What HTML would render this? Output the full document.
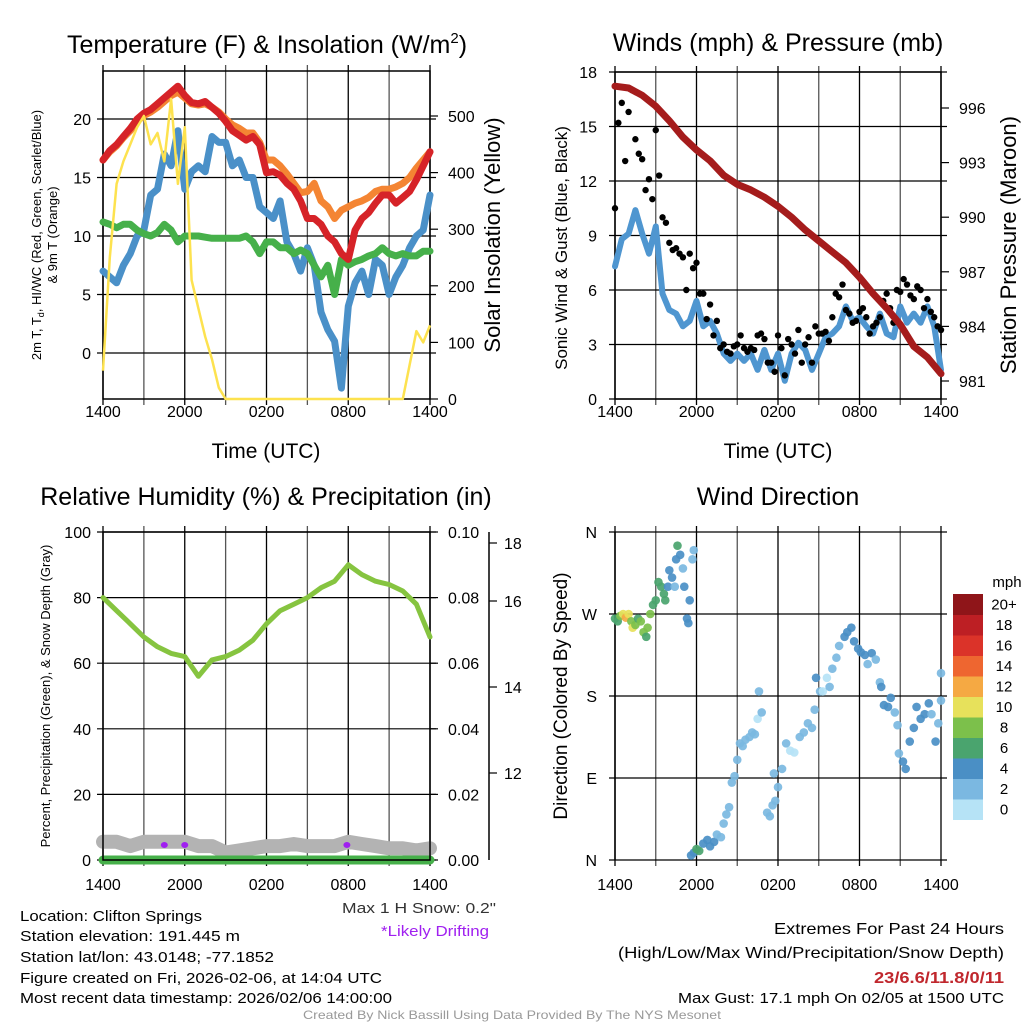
<!DOCTYPE html>
<html><head><meta charset="utf-8"><style>
html,body{margin:0;padding:0;background:#fff;}
svg{display:block;font-family:"Liberation Sans",Arial,sans-serif;}
</style></head><body>
<svg id="s" width="1024" height="1024" viewBox="0 0 1024 1024" xmlns="http://www.w3.org/2000/svg">
<rect width="1024" height="1024" fill="#fff"/>
<g id="tl"></g>
<g id="tr"></g>
<g id="bl"></g>
<g id="br"></g>
<g font-size="15" fill="#000">
<text x="20" y="921" textLength="182" lengthAdjust="spacingAndGlyphs">Location: Clifton Springs</text>
<text x="20" y="941" textLength="220" lengthAdjust="spacingAndGlyphs">Station elevation: 191.445 m</text>
<text x="20" y="962" textLength="254" lengthAdjust="spacingAndGlyphs">Station lat/lon: 43.0148; -77.1852</text>
<text x="20" y="983" textLength="362" lengthAdjust="spacingAndGlyphs">Figure created on Fri, 2026-02-06, at 14:04 UTC</text>
<text x="20" y="1003" textLength="372" lengthAdjust="spacingAndGlyphs">Most recent data timestamp: 2026/02/06 14:00:00</text>
<text x="342" y="913" textLength="154" lengthAdjust="spacingAndGlyphs" fill="#333">Max 1 H Snow: 0.2"</text>
<text x="381" y="936" textLength="108" lengthAdjust="spacingAndGlyphs" fill="#a020f0">*Likely Drifting</text>
<text x="1004" y="934" text-anchor="end" font-size="16" textLength="230" lengthAdjust="spacingAndGlyphs">Extremes For Past 24 Hours</text>
<text x="1004" y="958" text-anchor="end" font-size="16" textLength="386" lengthAdjust="spacingAndGlyphs">(High/Low/Max Wind/Precipitation/Snow Depth)</text>
<text x="1004" y="983" text-anchor="end" font-size="16" font-weight="bold" fill="#c0272d" textLength="130" lengthAdjust="spacingAndGlyphs">23/6.6/11.8/0/11</text>
<text x="1004" y="1003" text-anchor="end" textLength="326" lengthAdjust="spacingAndGlyphs">Max Gust: 17.1 mph On 02/05 at 1500 UTC</text>
<text x="303" y="1019" font-size="12" fill="#999" textLength="418" lengthAdjust="spacingAndGlyphs">Created By Nick Bassill Using Data Provided By The NYS Mesonet</text>
</g>
</svg>
<script>
// ---- data (hours since 1400 UTC, every 0.5 h) ----
const timeLabels = ["1400","2000","0200","0800","1400"];
const temp2m = [16.5,17.3,17.8,18.5,19.2,20.0,20.5,20.8,21.3,21.8,22.3,22.8,22.0,21.4,21.3,21.5,21.0,20.5,19.8,19.0,18.6,18.2,18.5,17.8,15.4,15.5,15.2,14.5,14.0,13.0,11.5,11.5,11.0,10.0,9.5,8.5,8.0,10.5,11.5,12.0,12.8,13.5,13.5,12.8,13.3,13.8,14.8,16.0,17.2];
const temp9m = [16.5,17.2,17.7,18.4,19.0,19.8,20.3,20.6,21.0,21.5,22.0,22.3,21.8,21.3,21.2,21.3,21.0,20.6,20.0,19.5,19.2,18.8,18.8,18.0,16.5,16.5,16.0,15.3,14.5,13.7,13.8,14.5,13.0,12.5,11.5,12.2,12.5,12.8,13.0,13.3,13.8,14.0,14.0,14.2,14.5,15.0,15.8,16.5,17.2];
const dewpt = [11.2,11.0,10.7,11.0,11.0,10.5,10.2,10.0,10.3,11.0,10.5,9.5,10.0,10.0,10.0,9.9,9.8,9.8,9.8,9.8,9.8,10.0,9.5,8.5,9.5,9.5,9.0,9.0,8.5,8.8,8.5,7.5,6.5,7.5,5.0,8.0,7.5,7.8,8.0,8.3,8.5,9.0,8.5,8.3,8.5,8.3,8.3,8.7,8.7];
const windChill = [7.0,6.5,6.0,7.5,8.5,10.0,10.5,13.5,14.0,17.0,16.0,19.0,14.0,15.5,16.0,15.5,18.5,18.0,18.0,16.0,16.5,15.0,15.0,12.5,12.0,11.5,13.0,9.5,8.5,7.0,9.0,7.5,3.5,2.0,1.0,-3.0,4.0,6.0,7.0,5.0,8.0,7.5,5.0,6.5,7.5,9.0,10.0,10.5,13.5];
const solar = [50,250,380,420,450,480,500,450,470,420,530,380,480,210,160,110,70,20,0,0,0,0,0,0,0,0,0,0,0,0,0,0,0,0,0,0,0,0,0,0,0,0,0,0,0,60,120,100,130];
const tempTicks = [0,5,10,15,20];
const solarTicks = [0,100,200,300,400,500];

const windSpeed = [7.3,8.8,9.1,10.4,9.1,8.0,9.5,5.8,4.9,4.7,4.0,4.3,5.4,4.0,4.3,3.6,2.5,2.1,2.5,2.1,2.5,1.6,2.7,1.6,2.5,1.0,2.5,3.1,2.7,1.6,2.5,3.4,3.6,4.0,5.1,4.3,4.5,4.0,3.6,4.7,3.6,3.4,5.1,4.2,4.7,4.2,5.1,4.0,1.6];
const windGust = [10.5,16.3,15.8,14.3,13.2,12.1,14.8,10.0,8.6,8.3,7.8,8.0,7.5,5.8,5.2,4.3,3.0,2.5,3.0,2.8,2.8,3.5,3.3,2.0,3.5,1.3,3.0,3.8,3.0,2.0,3.6,3.7,4.5,5.6,4.9,4.2,4.8,4.5,4.0,4.5,5.8,4.2,5.9,6.3,5.5,6.0,5.5,4.5,3.8];
const windGust2 = [15.2,13.1,17.0,13.5,11.5,11.0,12.3,9.7,8.2,8.0,6.0,7.2,5.8,4.4,3.5,2.8,2.6,2.9,3.5,2.6,2.7,3.6,2.0,1.5,2.8,3.3,2.5,2.0,3.4,4.0,3.6,3.2,5.8,6.3,4.7,4.3,5.0,3.6,4.2,5.4,5.0,6.0,6.6,5.7,6.2,5.0,4.8,4.0];
const pressure = [997.2,997.1,996.7,996.1,995.3,994.4,993.7,993.1,992.3,991.8,991.5,991.1,990.6,990.0,989.3,988.7,988.1,987.5,986.7,985.8,985.0,984.1,982.9,982.3,981.4]; // hourly
const windTicks = [0,3,6,9,12,15,18];
const presTicks = [981,984,987,990,993,996];

const rh = [80,76,72,68,65,63,62,56,61,62,64,67,72,76,78,80,83,85,90,87,85,84,82,78,68]; // hourly
const snowDepth = [10.4,10.4,10.3,10.4,10.4,10.4,10.4,10.3,10.3,10.15,10.2,10.25,10.3,10.3,10.35,10.3,10.3,10.3,10.4,10.35,10.3,10.25,10.25,10.2,10.25]; // hourly
const precip = [0,0,0,0,0,0,0,0,0,0,0,0,0,0,0,0,0,0,0,0,0,0,0,0,0];
const driftTimes = [4.5,6.0,17.9];
const rhTicks = [0,20,40,60,80,100];
const precipTicks = [0,0.02,0.04,0.06,0.08,0.10];
const snowTicks = [12,14,16,18];

const dirTime = [0,0.2,0.4,0.6,0.8,1.0,1.2,1.3,1.5,1.7,1.9,2.1,2.3,2.4,2.6,2.8,3.0,3.2,3.4,3.6,3.7,3.9,4.0,4.2,4.4,4.5,4.6,4.8,5.0,5.1,5.3,5.4,5.5,5.7,5.8,5.6,5.8,6.0,6.2,6.5,6.8,7.0,7.3,7.5,7.8,8.0,8.2,8.4,8.6,8.8,9.0,9.2,9.4,9.6,9.9,10.1,10.3,10.5,10.6,10.8,11.2,11.4,11.6,11.7,11.8,12.0,12.3,12.6,12.9,13.2,13.6,13.9,14.2,14.5,14.7,14.8,15.1,15.3,15.6,15.8,16.0,16.3,16.5,16.9,17.1,17.4,17.6,17.9,18.1,18.4,18.6,18.9,19.2,19.5,19.6,19.8,20.1,20.3,20.6,20.8,20.9,21.2,21.4,21.7,22.0,22.2,22.5,22.8,23.1,23.3,23.6,23.8,24.0,24.0];
const dirDeg = [265,262,268,270,266,270,262,255,258,265,262,250,245,255,270,280,285,305,300,292,285,300,318,310,300,330,345,335,320,300,265,260,285,330,340,5,8,12,10,18,22,15,20,28,25,40,50,58,85,92,110,128,125,132,135,140,138,155,185,162,52,48,60,95,65,80,100,128,120,118,135,140,150,145,165,200,185,185,200,190,210,222,235,245,250,255,240,232,228,225,215,227,220,195,190,170,168,178,162,148,117,108,100,130,145,168,155,160,172,160,130,150,205,175];
const dirSpeed = [7,7,9,10,12,10,8,10,9,7,8,8,7,8,8,7,6,7,6,7,7,5,5,4,3,4,6,4,3,4,4,4,4,3,2,4,4,7,6,4,4,4,4,3,2,3,3,3,3,3,3,3,2,3,3,2,3,1,3,3,2,3,3,3,3,3,3,3,1,1,3,3,3,3,3,4,3,1,1,3,3,3,3,4,4,4,4,4,4,4,3,4,3,3,4,4,4,4,3,3,3,4,4,4,4,4,4,4,4,3,4,3,2,2];
const dirTicks = ["N","E","S","W","N"];
const speedLabels = ["0","2","4","6","8","10","12","14","16","18","20+"];
const speedColors = ["#b6e3f6","#7bb8e1","#4a8fc5","#4aa46e","#7cc04b","#e7e15b","#f5a943","#ee6630","#db3329","#bd1f24","#8f1519"];

// ---- helpers ----
const NS = "http://www.w3.org/2000/svg";
function mk(parent, tag, attrs, text){
  const e = document.createElementNS(NS, tag);
  for (const k in attrs) e.setAttribute(k, attrs[k]);
  if (text !== undefined) e.textContent = text;
  parent.appendChild(e);
  return e;
}
function lin(d0,d1,r0,r1){ return v => r0 + (v-d0)/(d1-d0)*(r1-r0); }
function pathFrom(xs, ys){ return xs.map((x,i)=>(i?"L":"M")+x.toFixed(1)+","+ys[i].toFixed(1)).join(""); }

function frame(g, x0, x1, y0, y1, xScale, labelY){
  for (let h=0; h<=24; h+=3){
    const x = xScale(h);
    const l = mk(g,"line",{x1:x,x2:x,y1:y0-6,y2:y1+6,stroke:(h%6===0)?"#000":"#555","stroke-width":1.3});
    
    
  }
  timeLabels.forEach((lab,i)=>{
    const t = mk(g,"text",{x:xScale(i*6),y:labelY,"text-anchor":"middle","font-size":16},lab);
    
    
  });
}
function hgrid(g, x0, x1, y){
  const l = mk(g,"line",{x1:x0-6,x2:x1+6,y1:y,y2:y,stroke:"#000","stroke-width":1.2});
  
  
}

// ===== Panel 1: Temperature =====
(function(){
  const g = document.getElementById("tl");
  const X0=103,X1=430,Y0=71,Y1=399;
  const x = lin(0,24,X0,X1), y = lin(0,20,353,119), ys = lin(0,500,399,116);
  frame(g,X0,X1,Y0,Y1,x,417);
  tempTicks.forEach(v=>{
    hgrid(g,X0,X1,y(v));
    const t = mk(g,"text",{x:X0-12,y:y(v)+6,"text-anchor":"end","font-size":16},String(v));
    
    
  });
  solarTicks.forEach(v=>{
    mk(g,"line",{x1:X1,x2:X1+8,y1:ys(v),y2:ys(v),stroke:"#000","stroke-width":1.2});
    const t = mk(g,"text",{x:X1+18,y:ys(v)+6,"font-size":16},String(v));
    
    
  });
  mk(g,"rect",{x:X0,y:Y0,width:X1-X0,height:Y1-Y0,fill:"none",stroke:"#000","stroke-width":1.5});
  const tx = temp2m.map((_,i)=>x(i*0.5));
  const series = [[windChill,"#4a90c8","wind-chill-line"],[dewpt,"#46b04a","dewpoint-line"],[temp9m,"#f48533","temp-9m-line"],[temp2m,"#d62328","temp-2m-line"]];
  series.forEach(s=>{
    const p = mk(g,"path",{d:pathFrom(tx,s[0].map(y)),fill:"none",stroke:s[1],"stroke-width":7,"stroke-linejoin":"round","stroke-linecap":"round"});
    
    
  });
  const sp = mk(g,"path",{d:pathFrom(solar.map((_,i)=>x(i*0.5)),solar.map(ys)),fill:"none",stroke:"#fde24f","stroke-width":2.5,"stroke-linejoin":"round"});
  
  
  let t;
  t = mk(g,"text",{x:267,y:53,"text-anchor":"middle","font-size":25},"Temperature (F) & Insolation (W/m");
  mk(t,"tspan",{"font-size":15,dy:-10},"2");
  mk(t,"tspan",{dy:10},")");
  
  
  t = mk(g,"text",{x:266,y:458,"text-anchor":"middle","font-size":21},"Time (UTC)");
  
  
  t = mk(g,"text",{transform:"translate(500,235) rotate(-90)","text-anchor":"middle","font-size":22},"Solar Insolation (Yellow)");
  
  
  t = mk(g,"text",{transform:"translate(41,235) rotate(-90)","text-anchor":"middle","font-size":13},"2m T, T");
  mk(t,"tspan",{"font-size":9,dy:3},"d");
  mk(t,"tspan",{dy:-3},", HI/WC (Red, Green, Scarlet/Blue)");
  
  
  t = mk(g,"text",{transform:"translate(57,235) rotate(-90)","text-anchor":"middle","font-size":13},"& 9m T (Orange)");
  
  
})();

// ===== Panel 2: Winds =====
(function(){
  const g = document.getElementById("tr");
  const X0=615,X1=941,Y0=72,Y1=399;
  const x = lin(0,24,X0,X1), y = lin(0,18,399,72), yp = lin(981,996,381,108);
  frame(g,X0,X1,Y0,Y1,x,417);
  windTicks.forEach(v=>{
    hgrid(g,X0,X1,y(v));
    const t = mk(g,"text",{x:X0-18,y:y(v)+6,"text-anchor":"end","font-size":16},String(v));
    
    
  });
  presTicks.forEach(v=>{
    mk(g,"line",{x1:X1,x2:X1+8,y1:yp(v),y2:yp(v),stroke:"#000","stroke-width":1.2});
    const t = mk(g,"text",{x:X1+18,y:yp(v)+6,"font-size":16},String(v));
    
    
  });
  mk(g,"rect",{x:X0,y:Y0,width:X1-X0,height:Y1-Y0,fill:"none",stroke:"#000","stroke-width":1.5});
  const wp = mk(g,"path",{d:pathFrom(windSpeed.map((_,i)=>x(i*0.5)),windSpeed.map(y)),fill:"none",stroke:"#4f96d0","stroke-width":6,"stroke-linejoin":"round","stroke-linecap":"round"});
  
  
  windGust.forEach((v,i)=>{
    const c = mk(g,"circle",{cx:x(i*0.5),cy:y(v),r:3.2,fill:"#000"});
    
    
  });
  windGust2.forEach((v,i)=>{
    const c = mk(g,"circle",{cx:x(0.25+i*0.5),cy:y(v),r:3.2,fill:"#000"});
    
    
  });
  const pp = mk(g,"path",{d:pathFrom(pressure.map((_,i)=>x(i)),pressure.map(yp)),fill:"none",stroke:"#a51c1c","stroke-width":7,"stroke-linejoin":"round","stroke-linecap":"round"});
  
  
  let t;
  t = mk(g,"text",{x:778,y:51,"text-anchor":"middle","font-size":25},"Winds (mph) & Pressure (mb)");
  
  
  t = mk(g,"text",{x:778,y:458,"text-anchor":"middle","font-size":21},"Time (UTC)");
  
  
  t = mk(g,"text",{transform:"translate(567,248) rotate(-90)","text-anchor":"middle","font-size":17},"Sonic Wind & Gust (Blue, Black)");
  
  
  t = mk(g,"text",{transform:"translate(1016,245) rotate(-90)","text-anchor":"middle","font-size":22},"Station Pressure (Maroon)");
  
  
})();

// ===== Panel 3: RH =====
(function(){
  const g = document.getElementById("bl");
  const X0=103,X1=430,Y0=532,Y1=860;
  const x = lin(0,24,X0,X1), y = lin(0,100,860,532), yq = lin(0,0.10,860,532), ysn = lin(12,16,773,601);
  frame(g,X0,X1,Y0,Y1,x,890);
  rhTicks.forEach(v=>{
    hgrid(g,X0,X1,y(v));
    const t = mk(g,"text",{x:X0-12,y:y(v)+6,"text-anchor":"end","font-size":16},String(v));
    
    
  });
  precipTicks.forEach(v=>{
    mk(g,"line",{x1:X1,x2:X1+8,y1:yq(v),y2:yq(v),stroke:"#000","stroke-width":1.2});
    const t = mk(g,"text",{x:X1+18,y:yq(v)+6,"font-size":16},v.toFixed(2));
    
    
  });
  mk(g,"line",{x1:489,x2:489,y1:532,y2:860,stroke:"#000","stroke-width":1.5});
  snowTicks.forEach(v=>{
    const yy = Math.max(ysn(v),543);
    mk(g,"line",{x1:489,x2:497,y1:yy,y2:yy,stroke:"#000","stroke-width":1.2});
    const t = mk(g,"text",{x:504,y:yy+6,"font-size":16},String(v));
    
    
  });
  const hx = rh.map((_,i)=>x(i));
  const sn = mk(g,"path",{d:pathFrom(hx,snowDepth.map(ysn)),fill:"none",stroke:"#b3b3b3","stroke-width":14,"stroke-linejoin":"round","stroke-linecap":"round"});
  
  
  const pr = mk(g,"path",{d:pathFrom(hx,precip.map(yq)),fill:"none",stroke:"#46b04a","stroke-width":9,"stroke-linecap":"round"});
  
  
  mk(g,"rect",{x:X0,y:Y0,width:X1-X0,height:Y1-Y0,fill:"none",stroke:"#000","stroke-width":1.5});
  const rp = mk(g,"path",{d:pathFrom(hx,rh.map(y)),fill:"none",stroke:"#86c440","stroke-width":5,"stroke-linejoin":"round","stroke-linecap":"round"});
  
  
  driftTimes.forEach(tm=>{
    const c = mk(g,"ellipse",{cx:x(tm),cy:845,rx:3.5,ry:3,fill:"#a020f0"});
    
    
  });
  let t = mk(g,"text",{x:266,y:505,"text-anchor":"middle","font-size":25},"Relative Humidity (%) & Precipitation (in)");
  
  
  t = mk(g,"text",{transform:"translate(50,696) rotate(-90)","text-anchor":"middle","font-size":13},"Percent, Precipitation (Green), & Snow Depth (Gray)");
  
  
})();

// ===== Panel 4: Wind direction =====
(function(){
  const g = document.getElementById("br");
  const X0=615,X1=941,Y0=532,Y1=860;
  const x = lin(0,24,X0,X1), y = lin(0,360,860,532);
  frame(g,X0,X1,Y0,Y1,x,890);
  dirTicks.forEach((lab,i)=>{
    hgrid(g,X0,X1,y(i*90));
    const t = mk(g,"text",{x:X0-18,y:y(i*90)+6,"text-anchor":"end","font-size":16},lab);
    
    
  });
  mk(g,"line",{x1:X0,x2:X0,y1:Y0,y2:Y1,stroke:"#000","stroke-width":1.5});
  dirTime.forEach((tm,i)=>{
    const idx = Math.min(10,Math.floor(dirSpeed[i]/2));
    const c = mk(g,"circle",{cx:x(tm),cy:y(dirDeg[i]),r:4.3,fill:speedColors[idx],opacity:0.92});
    
    
  });
  const cb = mk(g,"g",{});
  
  
  const segH = 20.5, top = 594;
  speedColors.forEach((col,i)=>{
    const yy = top + (10-i)*segH;
    mk(cb,"rect",{x:953,y:yy,width:30,height:segH+0.5,fill:col});
    const t = mk(cb,"text",{x:1004,y:yy+segH/2+5,"text-anchor":"middle","font-size":15},speedLabels[i]);
    
    
  });
  let t = mk(g,"text",{x:1007,y:587,"text-anchor":"middle","font-size":15},"mph");
  
  
  t = mk(g,"text",{x:778,y:505,"text-anchor":"middle","font-size":25},"Wind Direction");
  
  
  t = mk(g,"text",{transform:"translate(567,696) rotate(-90)","text-anchor":"middle","font-size":19},"Direction (Colored By Speed)");
  
  
})();
</script>
</body></html>
